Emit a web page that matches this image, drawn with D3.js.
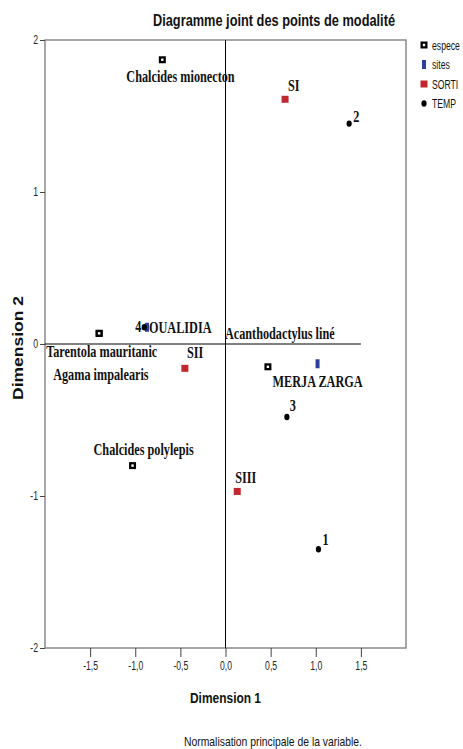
<!DOCTYPE html>
<html>
<head>
<meta charset="utf-8">
<script src="https://cdn.jsdelivr.net/npm/d3@7"></script>
<style>
  body { margin: 0; background: #fff; }
  svg { display: block; }
</style>
</head>
<body>
<div id="chart"></div>
<script>
// modalities and their coordinates (Dimension 1, Dimension 2)
const labels = ["Chalcides mionecton", "Tarentola mauritanic", "Agama impalearis", "Acanthodactylus liné", "Chalcides polylepis",
                "OUALIDIA", "MERJA ZARGA",
                "SI", "SII", "SIII",
                "1", "2", "3", "4"];
const groups = ["espece", "espece", "espece", "espece", "espece",
                "sites", "sites",
                "SORTI", "SORTI", "SORTI",
                "TEMP", "TEMP", "TEMP", "TEMP"];
const dim1 = [-0.70, -1.40, -1.40, 0.47, -1.03,
              -0.87, 1.02,
              0.66, -0.45, 0.13,
              1.03, 1.37, 0.68, -0.90];
const dim2 = [1.87, 0.07, 0.07, -0.15, -0.80,
              0.11, -0.13,
              1.61, -0.16, -0.97,
              -1.35, 1.45, -0.48, 0.11];
const legendItems = ["espece", "sites", "SORTI", "TEMP"];
const xTicks = [-1.5, -1.0, -0.5, 0.0, 0.5, 1.0, 1.5];
const yTicks = [-2, -1, 0, 1, 2];

const data = labels.map((l, i) => ({ label: l, group: groups[i], x: dim1[i], y: dim2[i] }));

// where each label sits relative to its point (px)
const labelOffset = {
  "Chalcides mionecton": [-36, 22],
  "Tarentola mauritanic": [-53, 24],
  "Agama impalearis": [-46, 47],
  "Acanthodactylus liné": [-43, -28],
  "Chalcides polylepis": [-39, -11],
  "OUALIDIA": [2, 6],
  "MERJA ZARGA": [-45, 23],
  "SI": [3, -8],
  "SII": [2, -10],
  "SIII": [-2, -8],
  "1": [4, -4],
  "2": [4, -2],
  "3": [3, -6],
  "4": [-9, 5]
};

const width = 463, height = 749;
const mLeft = 45, mRight = 406, mTop = 40, mBottom = 648;

const svg = d3.select("#chart").append("svg")
    .attr("width", width)
    .attr("height", height);

const x = d3.scaleLinear().domain([-2, 2]).range([mLeft, mRight]);
const y = d3.scaleLinear().domain([-2, 2]).range([mBottom, mTop]);

const sans = "'Liberation Sans', Arial, sans-serif";

// squeeze text horizontally, the chart uses a narrow face
function condense(sel, k) {
  sel.each(function() {
    const w = this.getComputedTextLength();
    d3.select(this).attr("textLength", w * k).attr("lengthAdjust", "spacingAndGlyphs");
  });
}

// frame
svg.append("rect")
    .attr("x", mLeft).attr("y", mTop)
    .attr("width", mRight - mLeft).attr("height", mBottom - mTop)
    .attr("fill", "none")
    .attr("stroke", "#8a8a8a")
    .attr("stroke-width", 1.5);

// reference lines
svg.append("line")
    .attr("x1", x(0)).attr("x2", x(0))
    .attr("y1", mTop).attr("y2", mBottom)
    .attr("stroke", "#000").attr("stroke-width", 1);
svg.append("line")
    .attr("x1", mLeft).attr("x2", x(1.5))
    .attr("y1", y(0)).attr("y2", y(0))
    .attr("stroke", "#000").attr("stroke-width", 1);

// axes
const fmt = d => d3.format(".1f")(d).replace(".", ",").replace("−", "-");
const gx = svg.append("g")
    .attr("transform", `translate(0,${mBottom})`)
    .call(d3.axisBottom(x).tickValues(xTicks).tickFormat(fmt).tickSize(9).tickPadding(4));
gx.select(".domain").remove();
gx.selectAll("line").attr("stroke", "#444");
gx.selectAll("text").attr("font-family", sans).attr("font-size", 12).attr("fill", "#222").call(condense, 0.72);

const gy = svg.append("g")
    .attr("transform", `translate(${mLeft},0)`)
    .call(d3.axisLeft(y).tickValues(yTicks).tickFormat(d => d3.format("d")(d).replace("−", "-")).tickSize(5).tickPadding(2));
gy.select(".domain").remove();
gy.selectAll("line").attr("stroke", "#444");
gy.selectAll("text").attr("font-family", sans).attr("font-size", 12).attr("fill", "#222").call(condense, 0.72);

// markers
const colors = { espece: "#000", sites: "#2d3f9a", SORTI: "#c1272d", TEMP: "#000" };

function drawMarker(g, group) {
  if (group === "espece") {
    g.append("rect").attr("x", -3.5).attr("y", -3.5).attr("width", 7).attr("height", 7).attr("fill", "#000");
    g.append("rect").attr("x", -1.2).attr("y", -1.2).attr("width", 2.4).attr("height", 2.4).attr("fill", "#fff");
  } else if (group === "sites") {
    g.append("rect").attr("x", -2).attr("y", -4.5).attr("width", 4).attr("height", 9).attr("fill", colors.sites);
  } else if (group === "SORTI") {
    g.append("rect").attr("x", -3.5).attr("y", -3.5).attr("width", 7).attr("height", 7).attr("fill", colors.SORTI);
  } else {
    g.append("ellipse").attr("rx", 2.6).attr("ry", 3.2).attr("fill", "#000");
  }
}

const pts = svg.append("g")
  .selectAll("g")
  .data(data)
  .join("g")
    .attr("transform", d => `translate(${x(d.x)},${y(d.y)})`);
pts.each(function(d) { drawMarker(d3.select(this), d.group); });

// point labels
svg.append("g")
  .selectAll("text")
  .data(data)
  .join("text")
    .attr("transform", d => {
      const o = labelOffset[d.label];
      return `translate(${x(d.x) + o[0]},${y(d.y) + o[1]}) scale(0.72,1)`;
    })
    .attr("font-family", "'Liberation Serif', 'Times New Roman', serif")
    .attr("font-size", 17)
    .attr("font-weight", "bold")
    .attr("fill", "#111")
    .text(d => d.label);

// legend
const leg = svg.append("g").attr("transform", "translate(424,45)");
const li = leg.selectAll("g").data(legendItems).join("g")
    .attr("transform", (d, i) => `translate(0,${i * 19.5})`);
li.each(function(d) { drawMarker(d3.select(this), d); });
li.append("text")
    .attr("x", 8).attr("y", 4.5)
    .attr("font-family", sans)
    .attr("font-size", 12)
    .attr("fill", "#111")
    .text(d => d)
    .call(condense, 0.72);

// titles
svg.append("text")
    .attr("x", 153).attr("y", 26)
    .attr("textLength", 242).attr("lengthAdjust", "spacingAndGlyphs")
    .attr("font-family", sans)
    .attr("font-size", 17)
    .attr("font-weight", "bold")
    .attr("fill", "#111")
    .text("Diagramme joint des points de modalité");

svg.append("text")
    .attr("x", 190).attr("y", 703)
    .attr("textLength", 71).attr("lengthAdjust", "spacingAndGlyphs")
    .attr("font-family", sans)
    .attr("font-size", 15)
    .attr("font-weight", "bold")
    .attr("fill", "#111")
    .text("Dimension 1");

svg.append("text")
    .attr("transform", `translate(23,${y(0) + 56}) rotate(-90)`)
    .attr("textLength", 104).attr("lengthAdjust", "spacingAndGlyphs")
    .attr("font-family", sans)
    .attr("font-size", 14)
    .attr("font-weight", "bold")
    .attr("fill", "#111")
    .text("Dimension 2");

svg.append("text")
    .attr("x", 184).attr("y", 746)
    .attr("textLength", 178).attr("lengthAdjust", "spacingAndGlyphs")
    .attr("font-family", sans)
    .attr("font-size", 13)
    .attr("fill", "#111")
    .text("Normalisation principale de la variable.");
</script>
</body>
</html>
